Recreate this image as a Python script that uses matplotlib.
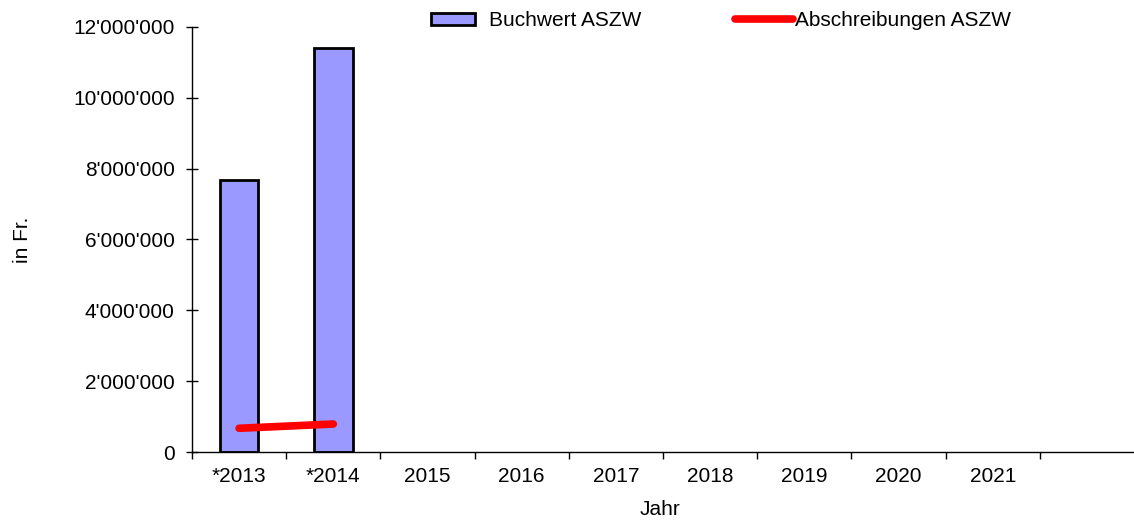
import matplotlib
matplotlib.use("Agg")
import matplotlib.pyplot as plt
from matplotlib.ticker import FuncFormatter, FixedLocator
import numpy as np

plt.rcParams['font.family'] = ['Liberation Sans', 'DejaVu Sans']

categories = ['*2013', '*2014', '2015', '2016', '2017', '2018', '2019', '2020', '2021', '']
buchwert = [7680000, 11410000]
abschreibungen = [670000, 790000]

fig = plt.figure(figsize=(11.34, 5.22), dpi=100)
ax = fig.add_axes([192/1134, 1-452/522, 1-192/1134, (452-27)/522])

x = np.arange(len(categories))
bars = ax.bar(x[:len(buchwert)], buchwert, width=0.41, color='#9999ff', edgecolor='black',
              linewidth=2, label='Buchwert ASZW', zorder=2)
line, = ax.plot(x[:len(abschreibungen)], abschreibungen, color='#ff0000', linewidth=5.5,
                solid_capstyle='round', label='Abschreibungen ASZW', zorder=3)

ax.set_xlim(-0.5, len(categories) - 0.5)
ax.set_ylim(0, 12000000)
ax.set_yticks(np.arange(0, 12000001, 2000000))
ax.yaxis.set_major_formatter(FuncFormatter(lambda v, p: f"{int(v):,}".replace(',', "'")))
ax.set_xticks(x)
ax.set_xticklabels(categories)
ax.xaxis.set_minor_locator(FixedLocator(np.arange(-0.5, len(categories) - 0.5, 1.0)))
ax.tick_params(axis='x', which='major', length=0, pad=11, labelsize=15)
ax.tick_params(axis='x', which='minor', length=5, width=1, direction='out')
ax.tick_params(axis='y', length=9, width=1, direction='inout', labelsize=15, pad=8)

for s in ['top', 'right']:
    ax.spines[s].set_visible(False)
ax.spines['left'].set_linewidth(1)
ax.spines['bottom'].set_linewidth(1)

ax.set_xlabel('Jahr', fontsize=15)
ax.set_ylabel('in Fr.', fontsize=15)
ax.xaxis.set_label_coords((660-192)/942, (452-500)/425)
ax.yaxis.set_label_coords((32-192)/942, 0.5)

leg1 = ax.legend(handles=[bars], loc='center left', bbox_to_anchor=((431-192)/942, (452-21)/425),
                 frameon=False, fontsize=15, handlelength=2.1, handleheight=0.5,
                 handletextpad=0.7, borderpad=0, borderaxespad=0)
ax.add_artist(leg1)
ax.legend(handles=[line], loc='center left', bbox_to_anchor=((735-192)/942, (452-21)/425),
          frameon=False, fontsize=15, handlelength=2.8, handletextpad=0.1,
          borderpad=0, borderaxespad=0)

fig.savefig('out.png', dpi=100)
